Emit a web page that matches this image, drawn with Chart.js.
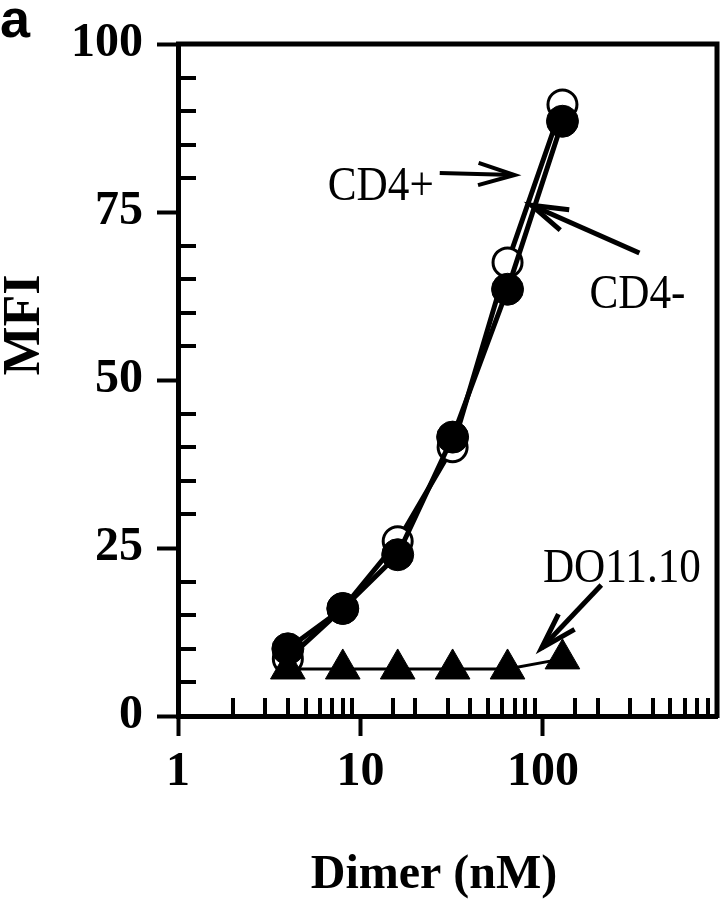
<!DOCTYPE html>
<html><head><meta charset="utf-8">
<script src="https://cdn.jsdelivr.net/npm/chart.js@4/dist/chart.umd.min.js"></script>
<style>html,body{margin:0;padding:0;background:#fff;}#wrap{width:723px;height:900px;}</style>
</head><body><div id="wrap"><canvas id="c" width="723" height="900"></canvas></div>
<script>
// ---- data ----
const dimerNM      = [4, 8, 16, 32, 64, 128];
const cd4PlusMFI   = [8.5, 16, 26, 40, 67.5, 91];    // open circles
const cd4MinusMFI  = [10, 16, 24, 41.5, 63.5, 88.5]; // filled circles
const do1110MFI    = [7, 7, 7, 7, 7, 8.5];           // triangles
const xTickLabels  = [1, 10, 100];
const yTickLabels  = [0, 25, 50, 75, 100];

// annotation anchors in data units (x: nM, y: MFI)
const notes = [
  {text: 'CD4+',    x: 6.62, y: 76.8, tail: [27.2, 80.8], tip: [70, 80.5],   lw: 4},
  {text: 'CD4-',    x: 180,  y: 60.7, tail: [338, 68.9],  tip: [86.6, 76.0], lw: 5},
  {text: 'DO11.10', x: 100,  y: 19.9, tail: [209, 19.5],  tip: [98.3, 10.1], lw: 5}
];

const isPow10 = v => Math.abs(Math.log10(v) - Math.round(Math.log10(v))) < 1e-9;
const pts = ys => dimerNM.map((x, i) => ({x, y: ys[i]}));

const decor = {
  id: 'decor',
  beforeDatasetsDraw(chart) {
    const {ctx, chartArea: a, scales: {x, y}} = chart;
    ctx.save();
    ctx.strokeStyle = '#000';
    ctx.lineWidth = 5;
    ctx.beginPath();
    ctx.moveTo(a.left - 2, a.top); ctx.lineTo(a.right, a.top); ctx.lineTo(a.right, a.bottom + 2);
    ctx.stroke();
    ctx.lineWidth = 4;
    ctx.beginPath();
    x.ticks.forEach(t => {
      if (!isPow10(t.value)) { const px = Math.round(x.getPixelForValue(t.value)); ctx.moveTo(px, a.bottom); ctx.lineTo(px, a.bottom - 18); }
    });
    y.ticks.forEach(t => {
      if (!yTickLabels.includes(t.value)) { const py = Math.round(y.getPixelForValue(t.value)); ctx.moveTo(a.left, py); ctx.lineTo(a.left + 18, py); }
    });
    ctx.stroke();
    ctx.restore();
  },
  afterDraw(chart) {
    const {ctx, scales: {x, y}} = chart;
    ctx.save();
    ctx.fillStyle = '#000'; ctx.strokeStyle = '#000';
    ctx.textBaseline = 'alphabetic';
    ctx.textAlign = 'left';
    notes.forEach(n => {
      const lx = x.getPixelForValue(n.x), ly = y.getPixelForValue(n.y);
      ctx.save();
      ctx.translate(lx, ly);
      ctx.scale(0.9, 1);
      ctx.font = '48px "Liberation Serif"';
      ctx.fillText(n.text, 0, 0);
      ctx.restore();
      const tx = x.getPixelForValue(n.tail[0]), ty = y.getPixelForValue(n.tail[1]);
      const hx = x.getPixelForValue(n.tip[0]),  hy = y.getPixelForValue(n.tip[1]);
      const ang = Math.atan2(ty - hy, tx - hx);
      const L = 38, da = 17 * Math.PI / 180;
      ctx.lineWidth = n.lw; ctx.lineCap = 'butt';
      ctx.beginPath(); ctx.moveTo(tx, ty); ctx.lineTo(hx, hy); ctx.stroke();
      ctx.beginPath();
      ctx.moveTo(hx + L * Math.cos(ang + da), hy + L * Math.sin(ang + da));
      ctx.lineTo(hx, hy);
      ctx.lineTo(hx + L * Math.cos(ang - da), hy + L * Math.sin(ang - da));
      ctx.stroke();
    });
    // axis titles and panel letter
    ctx.font = 'bold 48px "Liberation Serif"';
    ctx.textAlign = 'center';
    ctx.fillText('Dimer (nM)', 434, 888);
    ctx.save();
    ctx.translate(39, 325);
    ctx.rotate(-Math.PI / 2);
    ctx.font = 'bold 52px "Liberation Serif"';
    ctx.fillText('MFI', 0, 0);
    ctx.restore();
    ctx.font = 'bold 54px "Liberation Sans"';
    ctx.textAlign = 'left';
    ctx.fillText('a', 0, 37);
    ctx.restore();
  }
};

const tickFont = {family: 'Liberation Serif', weight: 'bold', size: 48};

new Chart(document.getElementById('c'), {
  type: 'line',
  data: {
    datasets: [
      {label: 'CD4-', data: pts(cd4MinusMFI), order: 0, borderColor: '#000', borderWidth: 5,
       pointRadius: 16, pointBackgroundColor: '#000', pointBorderColor: '#000', pointBorderWidth: 1},
      {label: 'DO11.10', data: pts(do1110MFI), order: 1, borderColor: '#000', borderWidth: 3,
       pointStyle: 'triangle', pointRadius: 20, pointBackgroundColor: '#000', pointBorderColor: '#000', pointBorderWidth: 1},
      {label: 'CD4+', data: pts(cd4PlusMFI), order: 2, borderColor: '#000', borderWidth: 5,
       pointRadius: 14.5, pointBackgroundColor: '#fff', pointBorderColor: '#000', pointBorderWidth: 3}
    ]
  },
  options: {
    responsive: false, animation: false,
    layout: {autoPadding: false, padding: {top: 44, right: 6, left: 0, bottom: 0}},
    plugins: {legend: {display: false}, tooltip: {enabled: false}},
    scales: {
      x: {
        type: 'logarithmic', min: 1, max: 900, position: 'bottom',
        border: {display: true, width: 5, color: '#000'},
        grid: {drawOnChartArea: false, drawTicks: true, tickLength: 20, tickWidth: 4,
               tickColor: c => (c.tick && isPow10(c.tick.value)) ? '#000' : 'rgba(0,0,0,0)'},
        ticks: {autoSkip: false, maxRotation: 0, color: '#000', font: tickFont, padding: 8,
                callback: v => xTickLabels.includes(v) ? String(v) : ''},
        afterFit: s => { s.height = 184; s.paddingRight = 0; s.paddingLeft = 0; }
      },
      y: {
        type: 'linear', min: 0, max: 100,
        border: {display: true, width: 5, color: '#000'},
        grid: {drawOnChartArea: false, drawTicks: true, tickLength: 21, tickWidth: 4,
               tickColor: c => (c.tick && yTickLabels.includes(c.tick.value)) ? '#000' : 'rgba(0,0,0,0)'},
        ticks: {stepSize: 5, autoSkip: false, color: '#000', font: tickFont, padding: 14,
                callback: v => yTickLabels.includes(v) ? String(v) : ''},
        afterFit: s => { s.width = 178; s.paddingTop = 0; s.paddingBottom = 0; }
      }
    }
  },
  plugins: [decor]
});
</script></body></html>
